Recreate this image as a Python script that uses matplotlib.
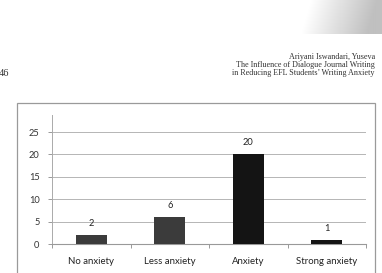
import numpy as np
import matplotlib
matplotlib.use("Agg")
import matplotlib.pyplot as plt
from matplotlib.patches import Rectangle

# data
categories = ["No anxiety", "Less anxiety", "Anxiety", "Strong anxiety"]
counts = [2, 6, 20, 1]
bar_colors = ["#3b3b3b", "#3b3b3b", "#141414", "#141414"]
y_ticks = [0, 5, 10, 15, 20, 25]
header_lines = ["Ariyani Iswandari, Yuseva",
                "The Influence of Dialogue Journal Writing",
                "in Reducing EFL Students\u2019 Writing Anxiety"]
page_number = "46"

W, H = 382, 273
fig = plt.figure(figsize=(W / 100, H / 100), dpi=100)
fig.patch.set_facecolor("white")

# page shading in the top right corner
sh = fig.add_axes([300 / W, 1 - 34 / H, 82 / W, 34 / H])
gx = np.linspace(0, 1, 80)
gy = np.linspace(0, 1, 34)
gxx, gyy = np.meshgrid(gx, gy)
shade = np.clip(gxx * 1.2 - 0.15 + 0.15 * gyy, 0, 1) * 0.25
sh.imshow(1 - shade, cmap="gray", vmin=0, vmax=1, aspect="auto", interpolation="bilinear")
sh.axis("off")

# running header
serif = "Liberation Serif"
for i, line in enumerate(header_lines):
    fig.text(375 / W, 1 - (57 + 8 * i) / H, line, ha="right", va="center",
             fontsize=5.9, family=serif, color="#333333")
fig.text(-1 / W, 1 - 74 / H, page_number, ha="left", va="center",
         fontsize=7.5, family=serif, color="#333333")

# chart frame
fig.add_artist(Rectangle((17 / W, -0.05), (375 - 17) / W, 0.05 + 1 - 103 / H,
                         transform=fig.transFigure, fill=False,
                         edgecolor="#9a9a9a", linewidth=0.9))

ax = fig.add_axes([52 / W, 1 - 244 / H, (366 - 52) / W, (244 - 115) / H])
x = np.arange(len(categories))
bars = ax.bar(x, counts, width=0.39, color=bar_colors, zorder=3)
for xi, v in zip(x, counts):
    ax.annotate(str(v), (xi, v), xytext=(0, 5), textcoords="offset points",
                ha="center", va="bottom", fontsize=6.7, family="Lato", color="#222222")

ax.set_xlim(-0.5, len(categories) - 0.5)
ax.set_ylim(0, 28.8)
ax.set_yticks(y_ticks)
ax.set_yticklabels([str(t) for t in y_ticks], fontsize=6.7, family="Lato", color="#333333")
ax.set_xticks(x)
ax.set_xticklabels(categories, fontsize=6.9, family="Lato", color="#222222")
ax.set_xticks(np.arange(-0.5, len(categories), 1.0), minor=True)
ax.tick_params(axis="x", which="major", length=0, pad=9)
ax.tick_params(axis="x", which="minor", length=3, color="#999999", width=0.7)
ax.tick_params(axis="y", length=3, color="#999999", width=0.7, pad=6)
for t in y_ticks[1:]:
    ax.axhline(t, color="#b5b5b5", linewidth=0.7, zorder=1)
for s in ["top", "right"]:
    ax.spines[s].set_visible(False)
ax.spines["left"].set_color("#aaaaaa")
ax.spines["left"].set_linewidth(0.7)
ax.spines["bottom"].set_color("#999999")
ax.spines["bottom"].set_linewidth(0.8)
ax.set_facecolor("none")

fig.savefig("out.png", dpi=100)
